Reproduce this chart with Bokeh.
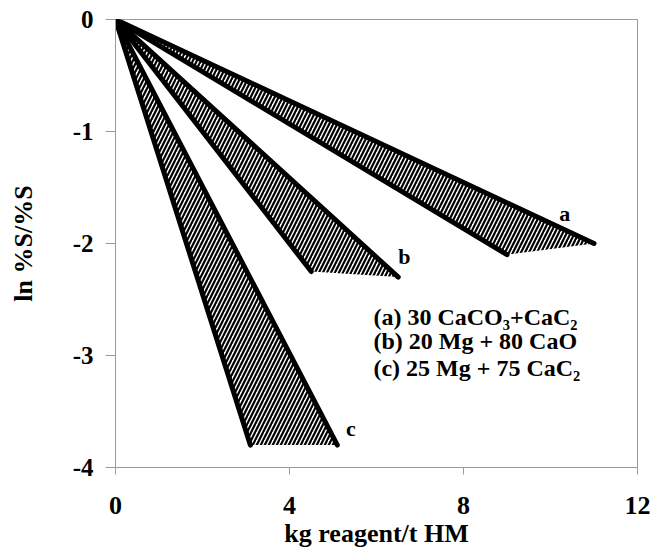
from bokeh.plotting import figure
from bokeh.models import ColumnDataSource, FixedTicker, Range1d
from bokeh.core.properties import value
from bokeh.embed import file_html
from bokeh.resources import INLINE

# ---- data ----
groups = ["a", "b", "c"]
x_low = [9.0, 4.5, 3.1]      # end of the steeper line of each pair
y_low = [-2.1, -2.25, -3.8]
x_high = [11.0, 6.5, 5.1]    # end of the shallower line of each pair
y_high = [-2.0, -2.3, -3.8]
legend_lines = ["(a) 30 CaCO\u2083+CaC\u2082", "(b) 20 Mg + 80 CaO", "(c) 25 Mg + 75 CaC\u2082"]
x_ticks = [0, 4, 8, 12]
y_ticks = [-4, -3, -2, -1, 0]
x_title = "kg reagent/t HM"
y_title = "ln %S/%S"

FONT = "Liberation Serif"

p = figure(width=650, height=553, output_backend="svg", toolbar_location=None,
           x_range=Range1d(0, 12), y_range=Range1d(-4, 0),
           min_border_left=115, min_border_right=13, min_border_top=19, min_border_bottom=86)
p.background_fill_color = "white"
p.border_fill_color = "white"
p.outline_line_color = "#9a9a9a"
p.outline_line_width = 1
p.xgrid.visible = False
p.ygrid.visible = False

# hatched areas between the two lines of each pair
src_patch = ColumnDataSource(dict(
    xs=[[0, xl, xh] for xl, xh in zip(x_low, x_high)],
    ys=[[0, yl, yh] for yl, yh in zip(y_low, y_high)],
))
p.patches("xs", "ys", source=src_patch, fill_alpha=0, line_alpha=0,
          hatch_pattern="/", hatch_color="black", hatch_scale=8, hatch_weight=2.2)

# thick boundary lines
src_lines = ColumnDataSource(dict(
    xs=[[0, x] for x in x_low + x_high],
    ys=[[0, y] for y in y_low + y_high],
))
p.multi_line("xs", "ys", source=src_lines, line_color="black", line_width=5, line_cap="round")

# group labels near the line ends
lab_src = ColumnDataSource(dict(x=[10.2, 6.5, 5.3], y=[-1.73, -2.12, -3.65], t=groups))
p.text("x", "y", text="t", source=lab_src, text_font=value(FONT), text_font_style="bold",
       text_font_size="22px", text_align="left", text_baseline="middle", text_color="black")

# legend block
leg_src = ColumnDataSource(dict(x=[5.93] * 3, y=[-2.66, -2.87, -3.11], t=legend_lines))
p.text("x", "y", text="t", source=leg_src, text_font=value(FONT), text_font_style="bold",
       text_font_size="24px", text_align="left", text_baseline="middle", text_color="black")

# axes
xax = p.xaxis[0]
yax = p.yaxis[0]
for ax in (xax, yax):
    ax.axis_line_color = "#9a9a9a"
    ax.major_tick_line_color = "#9a9a9a"
    ax.minor_tick_line_color = None
    ax.major_tick_in = 0
    ax.major_label_text_font = FONT
    ax.major_label_text_font_style = "bold"
    ax.major_label_text_color = "black"
    ax.axis_label_text_font = FONT
    ax.axis_label_text_font_style = "bold"
    ax.axis_label_text_color = "black"

xax.ticker = FixedTicker(ticks=x_ticks)
yax.ticker = FixedTicker(ticks=y_ticks)
xax.major_label_overrides = {t: str(t) for t in x_ticks}
yax.major_label_overrides = {t: str(t) for t in y_ticks}
xax.major_tick_out = 7
yax.major_tick_out = 10
xax.major_label_standoff = 22
yax.major_label_standoff = 12
xax.major_label_text_font_size = "26px"
yax.major_label_text_font_size = "25px"
xax.axis_label = x_title
yax.axis_label = y_title
xax.axis_label_text_font_size = "26px"
yax.axis_label_text_font_size = "26px"
xax.axis_label_standoff = 2
yax.axis_label_standoff = 32

open("out.html", "w").write(file_html(p, INLINE))
